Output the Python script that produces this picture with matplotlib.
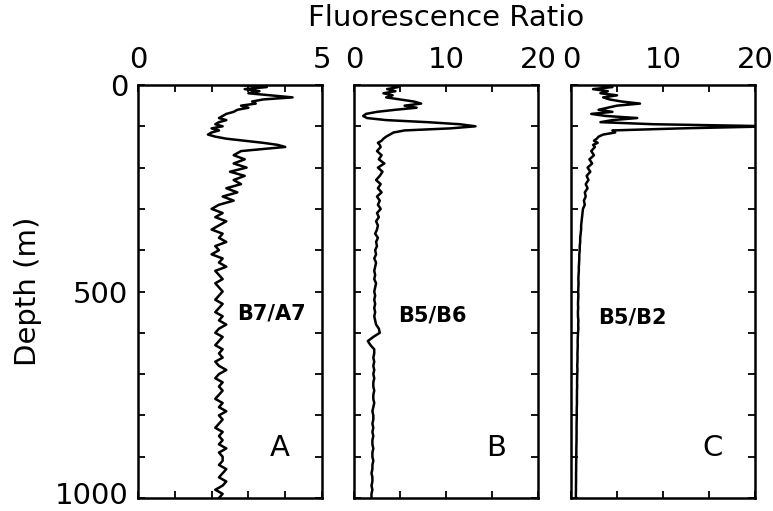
import matplotlib
import numpy as np
matplotlib.use('Agg')
import matplotlib.pyplot as plt

# depth grid: 5 m steps down to 145 m, then 10 m steps to 1000 m
depth = np.concatenate([np.arange(0, 150, 5), np.arange(150, 1001, 10)])

ratio_b7_a7 = [
    2.8, 3.5, 2.9, 3.3, 3.0, 3.6, 4.2, 3.4, 3.1, 3.2,
    2.8, 3.0, 2.7, 2.6, 2.4, 2.3, 2.2, 2.4, 2.2, 2.1,
    2.3, 2.0, 2.2, 2.0, 1.9, 2.1, 2.4, 2.9, 3.4, 3.8,
    4.0, 2.8, 2.6, 2.9, 2.6, 2.95, 2.5, 2.9, 2.6, 2.8,
    2.4, 2.7, 2.3, 2.6, 2.2, 2.0, 2.3, 2.1, 2.4, 2.2,
    2.0, 2.3, 2.2, 2.4, 2.1, 2.2, 2.0, 2.3, 2.2, 2.4,
    2.1, 2.2, 2.3, 2.1, 2.2, 2.3,
    2.2, 2.1, 2.3, 2.2, 2.1, 2.3, 2.2, 2.4, 2.2, 2.1,
    2.3, 2.2, 2.1, 2.3, 2.2, 2.3, 2.1, 2.2, 2.4, 2.2,
    2.1, 2.3, 2.2, 2.3, 2.2, 2.1, 2.3, 2.2, 2.4, 2.2,
    2.3, 2.2, 2.1, 2.3, 2.2, 2.3, 2.2, 2.4, 2.2, 2.3,
    2.3, 2.2, 2.4, 2.3, 2.2, 2.4, 2.3, 2.1, 2.3, 2.2,
]

ratio_b5_b6 = [
    4.0, 4.8, 3.6, 4.5, 3.2, 4.2, 3.5, 5.0, 6.5, 7.3,
    5.5, 6.8, 4.5, 2.5, 1.3, 1.0, 1.4, 3.5, 8.0, 11.5,
    13.2, 10.5, 5.5, 4.3, 3.9, 3.5, 3.2, 3.0, 2.6, 2.8,
    2.9, 2.5, 3.0, 2.7, 3.3, 2.6, 3.1, 2.8, 2.4, 2.9,
    2.6, 3.0, 2.5, 2.8, 2.6, 2.9, 2.5, 2.7, 2.4, 2.6,
    2.5, 2.3, 2.6, 2.4, 2.5, 2.3, 2.4, 2.2, 2.4, 2.3,
    2.2, 2.3, 2.2, 2.4, 2.3, 2.2, 2.3, 2.2, 2.3, 2.2,
    2.3, 2.2, 2.3, 2.4, 2.7, 2.8, 2.1, 1.5, 1.8, 2.2,
    2.2, 2.1, 2.2, 2.1, 2.2, 2.1, 2.2, 2.1, 2.1, 2.2,
    2.1, 2.1, 2.2, 2.1, 2.0, 2.1, 2.1, 2.0, 2.1, 2.0,
    2.1, 2.0, 2.0, 2.1, 2.0, 2.0, 2.1, 2.0, 2.0, 1.9,
    2.0, 2.0, 1.9, 2.0, 1.9, 1.9,
]

ratio_b5_b2 = [
    3.0, 4.5, 2.4, 4.0, 3.2, 5.0, 3.5, 4.2, 5.5, 7.5,
    5.0, 4.0, 3.0, 4.5, 2.2, 3.8, 7.2, 4.5, 3.2, 9.0,
    22.0, 12.0, 4.5, 4.8, 3.5, 3.0, 2.8, 2.5, 2.9, 2.4,
    2.6, 2.2, 2.5, 2.0, 2.3, 1.8, 2.1, 1.7, 1.9, 1.6,
    1.8, 1.5, 1.6, 1.4, 1.5, 1.3, 1.25, 1.2, 1.15, 1.1,
    1.1, 1.05, 1.0, 1.0, 0.95, 0.95, 0.9, 0.9, 0.88, 0.85,
    0.85, 0.82, 0.8, 0.82, 0.8, 0.78, 0.8, 0.78, 0.76, 0.78,
    0.75, 0.76, 0.8, 0.78, 0.8, 0.76, 0.74, 0.72, 0.73, 0.72,
    0.7, 0.71, 0.7, 0.68, 0.7, 0.68, 0.67, 0.66, 0.67, 0.65,
    0.65, 0.64, 0.65, 0.63, 0.62, 0.63, 0.62, 0.61, 0.6, 0.61,
    0.6, 0.6, 0.59, 0.58, 0.58, 0.57, 0.57, 0.56, 0.56, 0.55,
    0.55, 0.55, 0.54, 0.54, 0.53, 0.53,
]

panels = [
    (ratio_b7_a7, 5, [0, 1, 2, 3, 4, 5], ['0', '', '', '', '', '5'], 'B7/A7', (0.723, 0.446), 'A'),
    (ratio_b5_b6, 20, [0, 5, 10, 15, 20], ['0', '', '10', '', '20'], 'B5/B6', (0.424, 0.443), 'B'),
    (ratio_b5_b2, 20, [0, 5, 10, 15, 20], ['0', '', '10', '', '20'], 'B5/B2', (0.332, 0.436), 'C'),
]
lefts = [138 / 773, 354 / 773, 571 / 773]

fig = plt.figure(figsize=(7.73, 5.11), dpi=100)
fs = 21

for i, (vals, xmax, xt, xtl, name, npos, letter) in enumerate(panels):
    ax = fig.add_axes([lefts[i], 13 / 511, 184 / 773, 413 / 511])
    ax.plot(vals, depth, color='black', linewidth=1.8)
    ax.set_xlim(0, xmax)
    ax.set_ylim(1000, 0)
    ax.xaxis.tick_top()
    ax.set_xticks(xt)
    ax.set_xticklabels(xtl)
    ax.set_yticks(range(0, 1001, 100))
    if i == 0:
        ax.set_yticklabels([str(d) if d % 500 == 0 else '' for d in range(0, 1001, 100)])
        ax.set_ylabel('Depth (m)', fontsize=fs, labelpad=9)
    ax.tick_params(direction='in', top=True, bottom=True, left=True, right=True,
                   labeltop=True, labelbottom=False, labelleft=(i == 0),
                   length=5, width=1.3, labelsize=fs)
    ax.tick_params(axis='x', pad=8)
    ax.tick_params(axis='y', pad=7)
    if i == 0:
        # keep the bottom label inside the picture
        lab = ax.get_yticklabels()[-1]
        lab.set_verticalalignment('bottom')
        lab.set_y(1000)
        from matplotlib.transforms import offset_copy
        lab.set_transform(offset_copy(lab.get_transform(), fig=fig, y=-12, units='dots'))
    for s in ax.spines.values():
        s.set_linewidth(1.8)
    ax.text(npos[0], npos[1], name, transform=ax.transAxes, ha='center', va='center',
            fontsize=15, fontweight='bold')
    ax.text(0.77, 0.122, letter, transform=ax.transAxes, ha='center', va='center', fontsize=fs)

fig.text(446 / 773, 1 - 18 / 511, 'Fluorescence Ratio', ha='center', va='center', fontsize=fs)

plt.savefig('out.png', dpi=100)
plt.close()
